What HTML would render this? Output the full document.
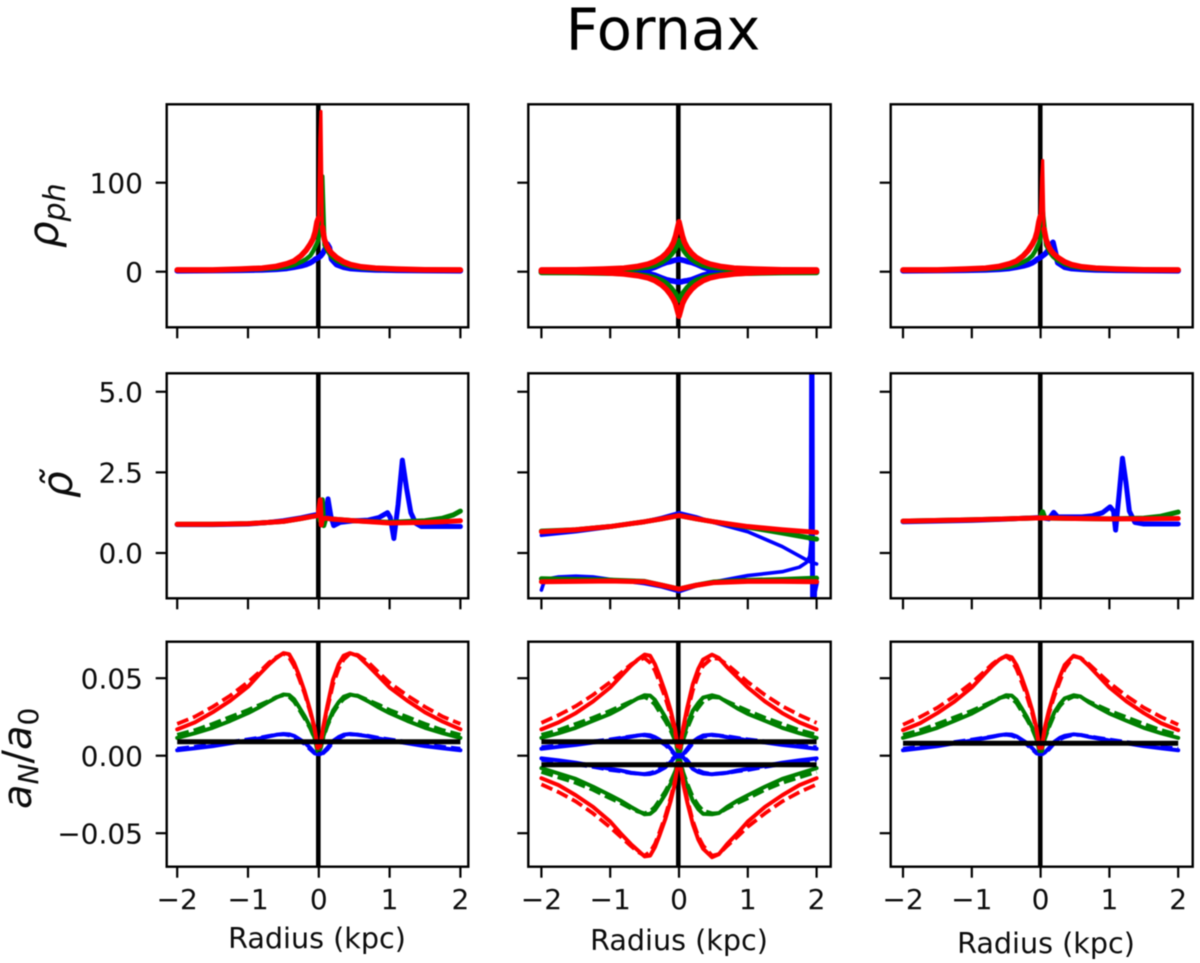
<!DOCTYPE html>
<html lang="en">
<head>
<meta charset="utf-8">
<title>Fornax</title>
<style>
html,body{margin:0;padding:0;background:#fff;}
body{width:1200px;height:963px;overflow:hidden;}
#figure{display:block;filter:blur(0.6px);}
text{font-family:"DejaVu Sans","Liberation Sans",sans-serif;fill:#0c0c0c;}
</style>
</head>
<body>
<svg id="figure" xmlns="http://www.w3.org/2000/svg" width="1200" height="963" viewBox="0 0 1200 963">
<rect x="0" y="0" width="1200" height="963" fill="#fff"/>
<text x="663" y="49.5" font-size="57.5" text-anchor="middle" style="fill:#000">Fornax</text>
<text transform="translate(58 248) rotate(-90)" font-size="42" font-style="italic">ρ<tspan font-size="30" dy="7">ph</tspan></text>
<text transform="translate(72 498) rotate(-90)" font-size="42" font-style="italic">ρ̃</text>
<text transform="translate(31 809) rotate(-90)" font-size="40" font-style="italic">a<tspan font-size="28" dy="7">N</tspan><tspan font-size="40" dy="-7" font-style="normal">/</tspan><tspan>a</tspan><tspan font-size="28" dy="7" font-style="normal">0</tspan></text>
<g id="plots"></g>
</svg>
<script>
const xTicks = [-2, -1, 0, 1, 2];
const xTickLabels = ["\u22122", "\u22121", "0", "1", "2"];
const densityTicks = [0, 100];
const densityTickLabels = ["0", "100"];
const rhoTicks = [0, 2.5, 5];
const rhoTickLabels = ["0.0", "2.5", "5.0"];
const accelTicks = [-0.05, 0, 0.05];
const accelTickLabels = ["\u22120.05", "0.00", "0.05"];

/* ---- row 1: photon/phantom density ---- */
const densityRadiusA = [-2,-1.5,-1.1,-0.8,-0.6,-0.45,-0.35,-0.25,-0.18,-0.12,-0.08,-0.05,-0.025,-0.005,0.015,0.03,0.05,0.08,0.12,0.15,0.18,0.25,0.35,0.45,0.6,0.8,1.1,1.5,2];
const densityRadiusB = [-2,-1.5,-1.1,-0.8,-0.6,-0.45,-0.35,-0.25,-0.18,-0.12,-0.08,-0.05,-0.025,0,0.025,0.05,0.08,0.12,0.18,0.25,0.35,0.45,0.6,0.8,1.1,1.5,2];
const densityRedLeftR = [-2,-1.5,-1.1,-0.8,-0.6,-0.45,-0.35,-0.25,-0.18,-0.12,-0.08,-0.05,-0.025,-0.005];
const densityRedSpikeR = [-0.005,0.015,0.03,0.05];
const densityRedRightR = [0.05,0.08,0.12,0.15,0.18,0.25,0.35,0.45,0.6,0.8,1.1,1.5,2];
const d1Blue = [1,1.2,1.5,2,2.7,3.7,5,6.5,8,10,12,14,15,16,17,18,20,24,31,27,14,8,5,3.5,2.7,2,1.5,1.2,1];
const d1Green = [1.8,1.8,2.3,3,4,5.5,7.5,11,14,18,23,28,32,36,50,85,107,30,24,20,17,12.5,8.5,6,4,3,2.3,1.8,1.8];
const d1RedLeft = [2,2,3,4,6,9,12,18,24,31,37,45,56,60];
const d1RedSpike = [60,150,180,50];
const d1RedRight = [50,36,28,24,21,16,11,8,5.5,4,3,2.2,2];
const d2BlueUp = [1,1,1,1,1.5,2.5,5,8.5,10.5,11.5,12.5,13,13.5,14,13.5,13,12.5,11.5,10.5,8.5,5,2.5,1.5,1,1,1,1];
const d2BlueDown = [-0.5,-0.5,-0.5,-0.7,-1,-2,-4,-7,-9,-10,-10.5,-11,-11.5,-11.5,-11.5,-11,-10.5,-10,-9,-7,-4,-2,-1,-0.7,-0.5,-0.5,-0.5];
const d2GreenUp = [1.2,1.5,2,2.5,4,5.5,7.5,11,14.5,19,23,27,31,35,31,27,23,19,14.5,11,7.5,5.5,4,2.5,2,1.5,1.2];
const d2GreenDown = [-0.8,-1,-1.5,-2,-3.5,-5,-7,-10,-13.5,-18,-22,-25,-29,-32,-29,-25,-22,-18,-13.5,-10,-7,-5,-3.5,-2,-1.5,-1,-0.8];
const d2RedUp = [2,2.2,3,4,6,8.5,11.5,16,21,27,33,40,48,56,48,40,33,27,21,16,11.5,8.5,6,4,3,2.2,2];
const d2RedDown = [0.5,0,-1,-2.5,-4.5,-7,-10,-15,-20,-26,-31,-36,-43,-50,-43,-36,-31,-26,-20,-15,-10,-7,-4.5,-2.5,-1,0,0.5];
const d3Blue = [1,1.2,1.5,2,2.7,3.7,5,6.5,8,10,12,14,15,16,17,18,19,21,25,30,33,10,5,3.5,2.7,2,1.5,1.2,1];
const d3Green = [1.8,1.8,2.3,3,4,5.5,7.5,11,14,18,23,28,32,36,48,70,55,30,24,20,17,12.5,8.5,6,4,3,2.3,1.8,1.8];
const d3RedLeft = [2,2,3,4,6,9,12,18,24,31,37,45,56,62];
const d3RedSpike = [62,105,125,48];
const d3RedRight = [48,36,28,24,21,16,11,8,5.5,4,3,2.2,2];

/* ---- row 2: rho tilde ---- */
const r1BlueR = [-2,-1.5,-1,-0.75,-0.5,-0.25,-0.1,-0.01,0.02,0.05,0.09,0.13,0.17,0.21,0.3,0.5,0.7,0.85,0.97,1.01,1.06,1.12,1.18,1.24,1.3,1.37,1.45,1.6,2];
const r1Blue = [0.88,0.88,0.9,0.94,1,1.09,1.16,1.2,1.15,0.95,1.05,1.68,1.15,0.85,0.95,1,1.02,1.1,1.25,1.1,0.45,1.5,2.88,2,1.25,0.92,0.82,0.82,0.82];
const r1GreenR = [-2,-1.5,-1,-0.75,-0.5,-0.25,-0.1,-0.01,0.02,0.05,0.07,0.1,0.2,0.5,1,1.5,1.75,1.9,2];
const r1Green = [0.89,0.89,0.91,0.94,0.98,1.07,1.13,1.16,1,1.65,0.85,1.08,1.05,1,0.95,1,1.08,1.18,1.3];
const r1RedR = [-2,-1.5,-1,-0.75,-0.5,-0.25,-0.1,-0.01,0.02,0.035,0.05,0.1,0.2,0.5,1,1.5,1.75,2];
const r1Red = [0.89,0.89,0.91,0.94,0.98,1.07,1.13,1.16,1.65,0.87,1.06,1.08,1.05,1,0.93,0.95,0.97,1];

const r2GridR = [-2,-1.5,-1,-0.5,-0.25,0,0.25,0.5,1,1.5,2];
const r2BlueUpR = [-2,-1.5,-1,-0.5,-0.25,0,0.25,0.5,1,1.5,1.9,2];
const r2BlueUp = [0.55,0.66,0.8,0.98,1.1,1.25,1.12,0.95,0.66,0.2,-0.27,-0.34];
const r2BlueDownR = [-2,-1.97,-1.9,-1.75,-1.5,-1.25,-1,-0.5,-0.25,0,0.25,0.5,1,1.5,1.75,1.85,1.9,1.92];
const r2BlueDown = [-1.15,-0.95,-0.8,-0.74,-0.72,-0.74,-0.82,-0.95,-1.05,-1.2,-1.02,-0.9,-0.7,-0.58,-0.44,-0.3,-0.1,0.4];
const r2BlueSpikeR = [1.92,1.925,1.93,1.95,1.955,1.97,2];
const r2BlueSpike = [0.4,2,8,-8,-3,-1.2,-0.9];
const r2GreenUp = [0.68,0.72,0.82,0.97,1.06,1.16,1.06,0.97,0.8,0.62,0.43];
const r2GreenDown = [-0.8,-0.82,-0.84,-0.88,-1,-1.12,-1,-0.9,-0.85,-0.82,-0.78];
const r2RedUp = [0.66,0.72,0.82,0.97,1.06,1.16,1.06,0.97,0.82,0.72,0.64];
const r2RedDown = [-0.89,-0.88,-0.87,-0.89,-1,-1.12,-1,-0.92,-0.88,-0.88,-0.89];

const r3BlueR = [-2,-1,-0.5,-0.01,0.05,0.12,0.19,0.25,0.35,0.6,0.75,0.9,1.01,1.06,1.09,1.14,1.19,1.24,1.29,1.37,1.5,2];
const r3Blue = [0.97,1.01,1.05,1.1,1.08,1.06,1.26,1.12,1.12,1.12,1.15,1.25,1.43,1.3,0.71,1.8,2.94,2.2,1.3,0.95,0.9,0.9];
const r3GreenR = [-2,-1,-0.5,-0.01,0.03,0.06,0.1,0.5,1,1.5,1.75,2];
const r3Green = [0.99,1.03,1.06,1.09,1.28,1.1,1.08,1.07,1.06,1.08,1.14,1.27];
const r3RedR = [-2,-1,-0.5,-0.01,0.5,1,1.5,2];
const r3Red = [0.99,1.03,1.06,1.09,1.07,1.06,1.06,1.07];

/* ---- row 3: acceleration a_N / a_0 ---- */
const accelRadiusA = [-2,-1.75,-1.5,-1.25,-1,-0.85,-0.7,-0.6,-0.5,-0.42,-0.35,-0.28,-0.2,-0.12,-0.06,-0.02,0.02,0.06,0.12,0.2,0.28,0.35,0.44,0.55,0.7,0.85,1,1.25,1.5,1.75,2];
const accelRadiusB = [-2,-1.75,-1.5,-1.25,-1,-0.85,-0.7,-0.6,-0.5,-0.42,-0.35,-0.28,-0.2,-0.12,-0.06,-0.02,0.02,0.06,0.12,0.2,0.28,0.35,0.48,0.58,0.7,0.85,1,1.25,1.5,1.75,2];
const a1BlueSolid = [0.0035,0.0048,0.0062,0.008,0.0098,0.011,0.0125,0.0135,0.014,0.0138,0.0128,0.0108,0.0085,0.005,0.002,0.001,0.001,0.002,0.005,0.0095,0.012,0.0135,0.014,0.0135,0.0125,0.011,0.0098,0.008,0.0062,0.0048,0.0035];
const a1BlueDash = [0.0045,0.0058,0.0072,0.0088,0.0105,0.0115,0.0128,0.0135,0.0138,0.0132,0.012,0.0098,0.0075,0.004,0.0015,0.001,0.001,0.0015,0.004,0.0085,0.011,0.0128,0.0138,0.0136,0.0128,0.0115,0.0105,0.0088,0.0072,0.0058,0.0045];
const a1GreenSolid = [0.0115,0.0145,0.018,0.0225,0.0275,0.031,0.035,0.0375,0.0395,0.0392,0.0365,0.0315,0.0255,0.0185,0.0115,0.004,0.004,0.012,0.02,0.029,0.0345,0.038,0.0395,0.0385,0.035,0.031,0.0275,0.0225,0.018,0.0145,0.0115];
const a1GreenDash = [0.0135,0.0165,0.0205,0.025,0.0295,0.0325,0.0355,0.0378,0.039,0.038,0.035,0.03,0.024,0.0175,0.011,0.003,0.003,0.011,0.019,0.0275,0.033,0.0365,0.039,0.0388,0.0358,0.0328,0.0295,0.025,0.0205,0.0165,0.0135];
const a1RedSolid = [0.017,0.0215,0.028,0.0355,0.0445,0.052,0.059,0.063,0.0662,0.0655,0.06,0.052,0.0415,0.029,0.018,0.006,0.006,0.018,0.032,0.049,0.059,0.0645,0.0662,0.0645,0.058,0.051,0.044,0.0355,0.028,0.022,0.017];
const a1RedDash = [0.0205,0.0252,0.0315,0.0388,0.0475,0.0535,0.0602,0.0635,0.066,0.0635,0.058,0.05,0.04,0.028,0.017,0.005,0.005,0.017,0.03,0.046,0.056,0.062,0.066,0.065,0.0602,0.0535,0.047,0.0388,0.0315,0.0252,0.0205];

const a2BlueUpSolid = [0.0045,0.0058,0.007,0.0085,0.0098,0.011,0.0122,0.013,0.0135,0.0132,0.012,0.0102,0.008,0.0045,0.001,-0.001,-0.001,0.001,0.0045,0.009,0.0115,0.013,0.0135,0.013,0.012,0.011,0.0098,0.0085,0.007,0.0058,0.0045];
const a2BlueUpDash = [0.0055,0.0066,0.0078,0.0092,0.0105,0.0115,0.0125,0.013,0.0132,0.0125,0.0112,0.0092,0.007,0.0035,0.0005,-0.001,-0.001,0.0005,0.0035,0.008,0.0105,0.0122,0.0132,0.013,0.0125,0.0115,0.0105,0.0092,0.0078,0.0066,0.0055];
const a2BlueDownSolid = [-0.0017,-0.003,-0.0045,-0.0065,-0.0085,-0.0095,-0.011,-0.0115,-0.012,-0.0118,-0.011,-0.0095,-0.0075,-0.004,-0.001,0.001,0.001,-0.001,-0.004,-0.0085,-0.0105,-0.0115,-0.012,-0.0115,-0.011,-0.0095,-0.0085,-0.0065,-0.0045,-0.003,-0.0017];
const a2BlueDownDash = [-0.0027,-0.004,-0.0055,-0.0072,-0.0092,-0.01,-0.0112,-0.0115,-0.0118,-0.0112,-0.0102,-0.0085,-0.0065,-0.003,-0.0005,0.001,0.001,-0.0005,-0.003,-0.0075,-0.0095,-0.0108,-0.0118,-0.0116,-0.0112,-0.01,-0.0092,-0.0072,-0.0055,-0.004,-0.0027];
const a2GreenUpSolid = [0.0115,0.0145,0.018,0.0225,0.027,0.0305,0.0345,0.037,0.039,0.0388,0.036,0.031,0.025,0.018,0.011,0.004,0.004,0.0115,0.02,0.029,0.034,0.0375,0.039,0.0378,0.0345,0.0305,0.027,0.0225,0.018,0.0145,0.0115];
const a2GreenUpDash = [0.0135,0.0165,0.0205,0.0245,0.029,0.032,0.035,0.037,0.0378,0.036,0.033,0.028,0.0225,0.016,0.01,0.003,0.003,0.01,0.0175,0.026,0.031,0.035,0.0378,0.0375,0.035,0.032,0.029,0.0245,0.0205,0.0165,0.0135];
const a2GreenDownSolid = [-0.008,-0.0115,-0.015,-0.02,-0.0255,-0.029,-0.033,-0.0355,-0.0378,-0.0375,-0.035,-0.0305,-0.025,-0.018,-0.0115,-0.004,-0.004,-0.012,-0.02,-0.029,-0.0345,-0.0375,-0.0378,-0.037,-0.033,-0.029,-0.0255,-0.02,-0.015,-0.0115,-0.008];
const a2GreenDownDash = [-0.0105,-0.014,-0.0175,-0.022,-0.0275,-0.0305,-0.034,-0.036,-0.0372,-0.0358,-0.033,-0.0285,-0.023,-0.0165,-0.0105,-0.003,-0.003,-0.0105,-0.018,-0.0265,-0.032,-0.0355,-0.0372,-0.037,-0.034,-0.0305,-0.0275,-0.022,-0.0175,-0.014,-0.0105];
const a2RedUpSolid = [0.017,0.0215,0.0275,0.035,0.044,0.051,0.058,0.062,0.0652,0.0645,0.059,0.051,0.041,0.029,0.018,0.006,0.006,0.018,0.031,0.046,0.056,0.062,0.0652,0.063,0.057,0.0505,0.044,0.035,0.0275,0.0215,0.017];
const a2RedUpDash = [0.0212,0.0262,0.032,0.0392,0.0475,0.0532,0.0588,0.0615,0.063,0.06,0.055,0.047,0.0375,0.026,0.016,0.005,0.005,0.016,0.028,0.042,0.052,0.058,0.063,0.0625,0.0588,0.0532,0.0475,0.0392,0.032,0.0262,0.0212];
const a2RedDownSolid = [-0.0145,-0.019,-0.0255,-0.033,-0.0425,-0.05,-0.057,-0.061,-0.065,-0.0645,-0.059,-0.051,-0.041,-0.029,-0.018,-0.006,-0.006,-0.018,-0.03,-0.044,-0.054,-0.06,-0.0655,-0.0635,-0.057,-0.05,-0.0425,-0.033,-0.0255,-0.019,-0.0145];
const a2RedDownDash = [-0.0185,-0.0235,-0.0295,-0.0372,-0.0462,-0.0522,-0.0582,-0.062,-0.0645,-0.062,-0.057,-0.049,-0.039,-0.027,-0.016,-0.005,-0.005,-0.016,-0.028,-0.042,-0.052,-0.058,-0.0645,-0.0635,-0.0582,-0.0522,-0.0458,-0.0372,-0.0295,-0.0235,-0.0185];
const a2BlackLevels = [0.009, -0.0058];

const a3BlueSolid = [0.0035,0.0048,0.0062,0.008,0.0098,0.011,0.0122,0.0132,0.0138,0.0136,0.0125,0.0105,0.0082,0.0048,0.002,0.001,0.001,0.002,0.0048,0.009,0.0115,0.0128,0.0138,0.0134,0.0122,0.011,0.0098,0.008,0.0062,0.0048,0.0035];
const a3BlueDash = [0.0045,0.0058,0.0072,0.0088,0.0104,0.0114,0.0125,0.0132,0.0135,0.013,0.0118,0.0096,0.0072,0.004,0.0015,0.001,0.001,0.0015,0.004,0.008,0.0105,0.012,0.0135,0.0134,0.0125,0.0114,0.0104,0.0088,0.0072,0.0058,0.0045];
const a3GreenSolid = [0.0115,0.0145,0.018,0.0225,0.0272,0.0308,0.0345,0.037,0.039,0.0388,0.036,0.031,0.025,0.018,0.011,0.004,0.004,0.0115,0.0195,0.028,0.0335,0.037,0.039,0.0382,0.0345,0.0308,0.0272,0.0225,0.018,0.0145,0.0115];
const a3GreenDash = [0.0135,0.0165,0.0205,0.0248,0.029,0.032,0.035,0.0372,0.0382,0.037,0.034,0.029,0.0235,0.017,0.0105,0.003,0.003,0.0105,0.018,0.0265,0.032,0.0355,0.0382,0.0378,0.035,0.032,0.029,0.0248,0.0205,0.0165,0.0135];
const a3RedSolid = [0.0165,0.021,0.0275,0.035,0.044,0.051,0.058,0.062,0.0645,0.0635,0.0585,0.051,0.041,0.029,0.018,0.006,0.006,0.018,0.029,0.041,0.051,0.0585,0.0645,0.063,0.058,0.051,0.044,0.035,0.0275,0.021,0.0165];
const a3RedDash = [0.02,0.025,0.031,0.0385,0.047,0.053,0.0592,0.0625,0.064,0.0615,0.056,0.048,0.0385,0.027,0.0165,0.005,0.005,0.0165,0.027,0.0385,0.048,0.056,0.064,0.0632,0.0592,0.053,0.047,0.0385,0.031,0.025,0.02];
const a1BlackLevels = [0.009];
const a3BlackLevels = [0.008];

const SVG_NS = "http://www.w3.org/2000/svg";
const BLUE = "#0000ff", GREEN = "#007f00", RED = "#ff0000";

const columns = [
  { left: 166.7, right: 468.3, zero: 318.8, perKpc: 70.8, zeroLine: -0.007 },
  { left: 528.3, right: 830.7, zero: 679.0, perKpc: 68.8, zeroLine: -0.01 },
  { left: 890.7, right: 1192.7, zero: 1040.6, perKpc: 68.8, zeroLine: -0.005 }
];
const rows = [
  { top: 104.3, bottom: 327.3, zero: 271.7, perUnit: 0.89, ticks: densityTicks, labels: densityTickLabels, width: 5.6, name: "density" },
  { top: 373.3, bottom: 598.3, zero: 553.0, perUnit: 32.25, ticks: rhoTicks, labels: rhoTickLabels, width: 5, name: "rho-tilde" },
  { top: 641.7, bottom: 866.7, zero: 755.7, perUnit: 1550, ticks: accelTicks, labels: accelTickLabels, width: 4, name: "acceleration" }
];
const xLabelPositions = [[317, 948], [679, 950], [1046, 953]];

const panels = [
  { row: 0, col: 0, series: [[densityRadiusA,d1Blue,BLUE],[densityRadiusA,d1Green,GREEN,false,4.4],[densityRedLeftR,d1RedLeft,RED],[densityRedSpikeR,d1RedSpike,RED,false,3.2],[densityRedRightR,d1RedRight,RED]], levels: [] },
  { row: 0, col: 1, series: [[densityRadiusB,d2BlueUp,BLUE],[densityRadiusB,d2BlueDown,BLUE],[densityRadiusB,d2GreenUp,GREEN],[densityRadiusB,d2GreenDown,GREEN],[densityRadiusB,d2RedUp,RED],[densityRadiusB,d2RedDown,RED]], levels: [] },
  { row: 0, col: 2, series: [[densityRadiusA,d3Blue,BLUE],[densityRadiusA,d3Green,GREEN,false,4.4],[densityRedLeftR,d3RedLeft,RED],[densityRedSpikeR,d3RedSpike,RED,false,3.2],[densityRedRightR,d3RedRight,RED]], levels: [] },
  { row: 1, col: 0, series: [[r1BlueR,r1Blue,BLUE],[r1GreenR,r1Green,GREEN],[r1RedR,r1Red,RED]], levels: [] },
  { row: 1, col: 1, series: [[r2BlueUpR,r2BlueUp,BLUE,false,3.6],[r2BlueDownR,r2BlueDown,BLUE,false,3.6],[r2BlueSpikeR,r2BlueSpike,BLUE,false,5],[r2GridR,r2GreenUp,GREEN],[r2GridR,r2GreenDown,GREEN],[r2GridR,r2RedUp,RED],[r2GridR,r2RedDown,RED]], levels: [] },
  { row: 1, col: 2, series: [[r3BlueR,r3Blue,BLUE],[r3GreenR,r3Green,GREEN],[r3RedR,r3Red,RED]], levels: [] },
  { row: 2, col: 0, series: [[accelRadiusA,a1BlueSolid,BLUE],[accelRadiusA,a1BlueDash,BLUE,true],[accelRadiusA,a1GreenSolid,GREEN],[accelRadiusA,a1GreenDash,GREEN,true],[accelRadiusA,a1RedSolid,RED],[accelRadiusA,a1RedDash,RED,true]], levels: a1BlackLevels },
  { row: 2, col: 1, series: [[accelRadiusB,a2BlueUpSolid,BLUE],[accelRadiusB,a2BlueUpDash,BLUE,true],[accelRadiusB,a2BlueDownSolid,BLUE],[accelRadiusB,a2BlueDownDash,BLUE,true],[accelRadiusB,a2GreenUpSolid,GREEN],[accelRadiusB,a2GreenUpDash,GREEN,true],[accelRadiusB,a2GreenDownSolid,GREEN],[accelRadiusB,a2GreenDownDash,GREEN,true],[accelRadiusB,a2RedUpSolid,RED],[accelRadiusB,a2RedUpDash,RED,true],[accelRadiusB,a2RedDownSolid,RED],[accelRadiusB,a2RedDownDash,RED,true]], levels: a2BlackLevels },
  { row: 2, col: 2, series: [[accelRadiusB,a3BlueSolid,BLUE],[accelRadiusB,a3BlueDash,BLUE,true],[accelRadiusB,a3GreenSolid,GREEN],[accelRadiusB,a3GreenDash,GREEN,true],[accelRadiusB,a3RedSolid,RED],[accelRadiusB,a3RedDash,RED,true]], levels: a3BlackLevels }
];

function make(tag, attrs) {
  const node = document.createElementNS(SVG_NS, tag);
  for (const key in attrs) node.setAttribute(key, attrs[key]);
  return node;
}
function xScale(col, radius) { return col.zero + radius * col.perKpc; }
function yScale(row, value) { return row.zero - value * row.perUnit; }

const plots = document.getElementById("plots");
const defs = make("defs", {});
plots.appendChild(defs);

panels.forEach(function (panel, index) {
  const col = columns[panel.col];
  const row = rows[panel.row];
  const id = "panel-clip-" + index;
  const clip = make("clipPath", { id: id });
  clip.appendChild(make("rect", { x: col.left, y: row.top, width: col.right - col.left, height: row.bottom - row.top }));
  defs.appendChild(clip);

  const group = make("g", {});
  
  
  plots.appendChild(group);

  const marks = make("g", { "clip-path": "url(#" + id + ")" });
  group.appendChild(marks);

  const zeroLine = make("line", { x1: xScale(col, col.zeroLine), x2: xScale(col, col.zeroLine), y1: row.top, y2: row.bottom, stroke: "#000", "stroke-width": 4.6 });
  
  
  marks.appendChild(zeroLine);

  panel.series.forEach(function (s) {
    const pts = s[0].map(function (r, i) { return xScale(col, r).toFixed(2) + "," + yScale(row, s[1][i]).toFixed(2); }).join(" ");
    const line = make("polyline", { points: pts, fill: "none", stroke: s[2], "stroke-width": s[4] || (s[3] ? 3.8 : row.width), "stroke-linejoin": "round", "stroke-linecap": "round" });
    if (s[3]) line.setAttribute("stroke-dasharray", "12 5");
    if (s[3]) line.setAttribute("stroke-linecap", "butt");
    
    
    marks.appendChild(line);
  });

  panel.levels.forEach(function (level) {
    const hline = make("line", { x1: xScale(col, -2), x2: xScale(col, 2), y1: yScale(row, level), y2: yScale(row, level), stroke: "#000", "stroke-width": 5 });
    
    
    marks.appendChild(hline);
  });

  const frame = make("rect", { x: col.left, y: row.top, width: col.right - col.left, height: row.bottom - row.top, fill: "none", stroke: "#000", "stroke-width": 2.4 });
  
  
  group.appendChild(frame);

  xTicks.forEach(function (t, i) {
    const px = xScale(col, t);
    const tick = make("line", { x1: px, x2: px, y1: row.bottom, y2: row.bottom + 11, stroke: "#000", "stroke-width": 2.2 });
    
    
    group.appendChild(tick);
    if (panel.row === 2) {
      const label = make("text", { x: px, y: 909, "font-size": 28, "text-anchor": "middle" });
      label.textContent = xTickLabels[i];
      
      
      group.appendChild(label);
    }
  });

  row.ticks.forEach(function (t, i) {
    const py = yScale(row, t);
    const tick = make("line", { x1: col.left - 11, x2: col.left, y1: py, y2: py, stroke: "#000", "stroke-width": 2.2 });
    
    
    group.appendChild(tick);
    if (panel.col === 0) {
      const label = make("text", { x: 143, y: py + 10.2, "font-size": 28, "text-anchor": "end" });
      label.textContent = row.labels[i];
      
      
      group.appendChild(label);
    }
  });

  if (panel.row === 2) {
    const pos = xLabelPositions[panel.col];
    const title = make("text", { x: pos[0], y: pos[1], "font-size": 28.6, "text-anchor": "middle" });
    title.textContent = "Radius (kpc)";
    
    
    group.appendChild(title);
  }
});
</script>
</body>
</html>
